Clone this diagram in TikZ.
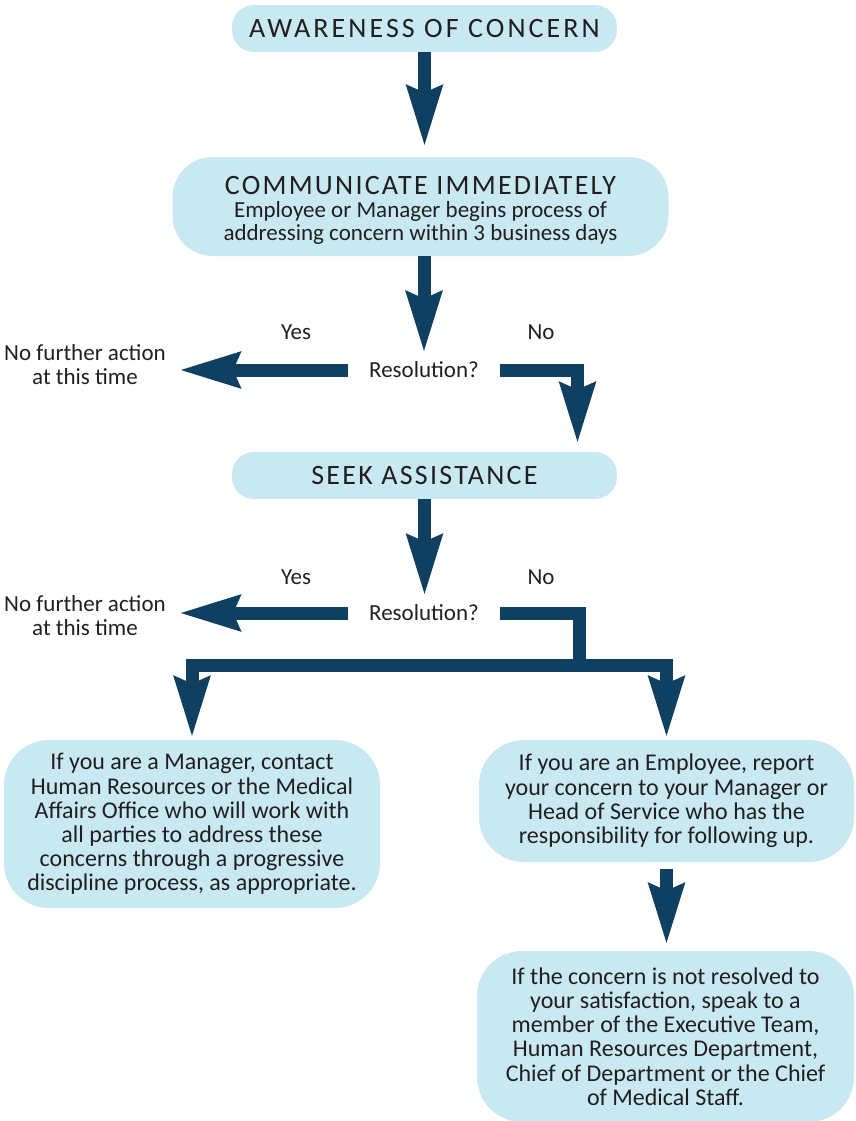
\documentclass[tikz,border=0pt]{standalone}
\usepackage{fontspec}
\setmainfont{Carlito}
\newfontfamily\capsfont{Carlito}[LetterSpace=8]
\newfontfamily\capswide{Carlito}[LetterSpace=11]
\usetikzlibrary{arrows.meta,calc}
\definecolor{boxc}{HTML}{C8E8F2}
\definecolor{arrc}{HTML}{0F4062}
\definecolor{txtc}{HTML}{231F20}
\begin{document}
\begin{tikzpicture}[x=1pt,y=-1pt,
  box/.style={fill=boxc, align=center, text=txtc, inner sep=0pt},
  small/.style={box, minimum width=385pt, minimum height=47pt, rounded corners=22pt, font=\fontsize{28}{30}\selectfont},
  big/.style={box, rounded corners=45pt, font=\fontsize{24}{24.2}\selectfont},
  lbl/.style={text=txtc, align=center, font=\fontsize{23}{24}\selectfont, inner sep=0pt},
  resq/.style={lbl, inner xsep=21pt, minimum height=30pt},
  conn/.style={draw=arrc, line width=13pt, line join=miter, -{Stealth[length=60pt,width=34pt,inset=6pt]}},
  bar/.style={draw=arrc, line width=13pt, line join=miter}]
\useasboundingbox (0,0) rectangle (855,1121);
% boxes
\node[small] (aw) at (424.5,28.5) {\capswide AWARENESS OF CONCERN};
\node[big, minimum width=496pt, minimum height=99pt, rounded corners=40pt, font=\fontsize{23}{23}\selectfont] (comm) at (420.5,206.5)
  {{\capsfont\fontsize{28}{27}\selectfont\rule{0pt}{25pt}COMMUNICATE IMMEDIATELY}\\Employee or Manager begins process of\\addressing concern within 3 business days};
\node[small] (sa) at (424.5,475.5) {\capsfont SEEK ASSISTANCE};
\node[big, minimum width=376pt, minimum height=168pt] (mgr) at (192,824)
  {If you are a Manager, contact\\Human Resources or the Medical\\Affairs Office who will work with\\all parties to address these\\concerns through a progressive\\discipline process, as appropriate.};
\node[big, minimum width=375pt, minimum height=122pt] (emp) at (666.5,801)
  {If you are an Employee, report\\your concern to your Manager or\\Head of Service who has the\\responsibility for following up.};
\node[big, minimum width=377pt, minimum height=171pt] (esc) at (665.5,1036.5)
  {If the concern is not resolved to\\your satisfaction, speak to a\\member of the Executive Team,\\Human Resources Department,\\Chief of Department or the Chief\\of Medical Staff.};
% labels
\node[resq] (r1) at (424,370) {Resolution?};
\node[lbl] (y1) at (296,332) {Yes};
\node[lbl] (n1) at (541,332) {No};
\node[lbl] (nf1) at (85,365) {No further action\\at this time};
\node[resq] (r2) at (424,613) {Resolution?};
\node[lbl] (y2) at (296,577) {Yes};
\node[lbl] (n2) at (541,577) {No};
\node[lbl] (nf2) at (85,616) {No further action\\at this time};
% connectors
\draw[conn, shorten >=10pt] (aw.south) -- (aw.south |- comm.north);
\draw[conn, shorten >=2pt] (r1.north |- comm.south) -- (r1.north);
\draw[conn, shorten >=13pt] (r1.west) -- (r1.west -| nf1.east);
\draw[conn, shorten >=8pt] (r1.east) -| ([xshift=153pt]sa.north);
\draw[conn, shorten >=2pt] (sa.south) -- (sa.south |- r2.north);
\draw[conn, shorten >=13pt] (r2.west) -- (r2.west -| nf2.east);
\coordinate (j) at (579.5,665);
\draw[bar] (r2.east) -| (j);
\draw[conn, shorten >=2pt] (j) -| (mgr.north);
\draw[conn, shorten >=2pt] (j) -| (emp.north);
\draw[conn, shorten <=7pt, shorten >=6pt] (emp.south) -- (emp.south |- esc.north);
\end{tikzpicture}
\end{document}
